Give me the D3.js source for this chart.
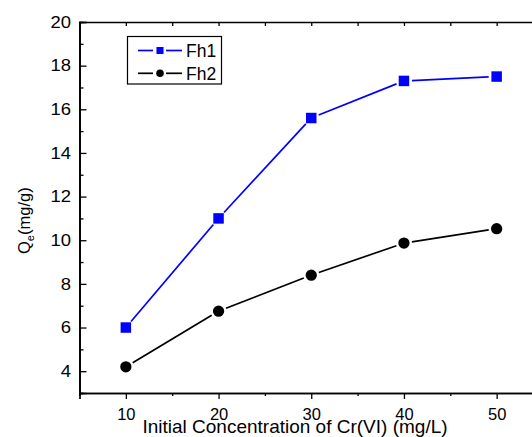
<!DOCTYPE html>
<html><head><meta charset="utf-8">
<script src="https://cdn.jsdelivr.net/npm/d3@7"></script>
<style>
html,body{margin:0;padding:0;background:#fff;}
svg{display:block;font-family:Arial,"Liberation Sans",sans-serif;}
</style></head>
<body><svg id="c" width="532" height="437"></svg>
<script>
const concentrations = [10, 20, 30, 40, 50];
const fh1 = [6.0, 11.0, 15.6, 17.3, 17.5];
const fh2 = [4.2, 6.75, 8.4, 9.87, 10.53];
const seriesNames = ["Fh1", "Fh2"];
const seriesColors = ["#0000ff", "#000000"];
const xTicks = [10, 20, 30, 40, 50];
const yTicks = [4, 6, 8, 10, 12, 14, 16, 18, 20];

const SY = 1.12; // slight horizontal stretch of y tick labels
const svg = d3.select("#c");
const x = d3.scaleLinear().domain([5, 55]).range([79.5, 543]);
const y = d3.scaleLinear().domain([3, 20]).range([393, 22]);

// axes
const xAxis = d3.axisBottom(x).tickValues(xTicks).tickSize(6).tickPadding(9).tickFormat(d3.format("d"));
const xMinor = d3.axisBottom(x).tickValues([15,25,35,45]).tickSize(3).tickFormat("");
const gx = svg.append("g").attr("transform", `translate(0,${y(3)})`).call(xAxis);
svg.append("g").attr("transform", `translate(0,${y(3)})`).call(xMinor);
const xTop = d3.axisTop(x).tickValues([10,15,20,25,30,35,40,45,50]).tickSize(-4).tickFormat("");
svg.append("g").attr("transform", `translate(0,${y(20)})`).call(xTop);

const yAxis = d3.axisLeft(y).tickValues(yTicks).tickSize(-7).tickPadding(9).tickFormat(d3.format("d"));
const yMinor = d3.axisLeft(y).tickValues([5,7,9,11,13,15,17,19]).tickSize(-4).tickFormat("");
const gy = svg.append("g").attr("transform", `translate(${x(5)},0)`).call(yAxis);
svg.append("g").attr("transform", `translate(${x(5)},0)`).call(yMinor);

svg.selectAll(".domain").attr("stroke", "#000").attr("stroke-width", 1.7);
svg.selectAll(".tick line").attr("stroke", "#000").attr("stroke-width", 1.3);
svg.selectAll(".tick text").attr("font-size", 16.5).attr("fill", "#000").attr("font-family", "Arial, 'Liberation Sans', sans-serif");
gy.selectAll(".tick text").attr("x", -8.5 / SY).attr("transform", `scale(${SY},1)`);

// axis titles
svg.append("text").attr("x", 295).attr("y", 433).attr("text-anchor", "middle")
  .attr("font-size", 19).text("Initial Concentration of Cr(VI) (mg/L)");
const yl = svg.append("text").attr("transform", "translate(29.5,254) rotate(-90)")
  .attr("font-size", 16.5);
yl.append("tspan").text("Q");
yl.append("tspan").attr("font-size", 11).attr("dy", 4).text("e");
yl.append("tspan").attr("dy", -4).text("(mg/g)");

// series with gapped segments
function drawSeries(vals, color, shape) {
  const pts = concentrations.map((c, i) => [x(c), y(vals[i])]);
  const gap = 8;
  for (let i = 0; i < pts.length - 1; i++) {
    const [x1, y1] = pts[i], [x2, y2] = pts[i+1];
    const dx = x2 - x1, dy = y2 - y1, L = Math.hypot(dx, dy);
    const ux = dx / L, uy = dy / L;
    svg.append("line")
      .attr("x1", x1 + ux*gap).attr("y1", y1 + uy*gap)
      .attr("x2", x2 - ux*gap).attr("y2", y2 - uy*gap)
      .attr("stroke", color).attr("stroke-width", 1.7);
  }
  const sym = d3.symbol().type(shape === "square" ? d3.symbolSquare : d3.symbolCircle)
    .size(shape === "square" ? 110 : 100);
  svg.append("g").selectAll("path").data(pts).join("path")
    .attr("transform", d => `translate(${d[0]},${d[1]})`)
    .attr("d", sym).attr("fill", color);
}
drawSeries(fh1, seriesColors[0], "square");
drawSeries(fh2, seriesColors[1], "circle");

// legend
const lg = svg.append("g");
lg.append("rect").attr("x", 127.5).attr("y", 36.5).attr("width", 94).attr("height", 47.5)
  .attr("fill", "#fff").attr("stroke", "#000").attr("stroke-width", 1.2);
const shapes = ["square", "circle"];
seriesNames.forEach((n, i) => {
  const cy = 50.5 + i * 22.8;
  lg.append("line").attr("x1", 138).attr("x2", 153).attr("y1", cy).attr("y2", cy)
    .attr("stroke", seriesColors[i]).attr("stroke-width", 1.7);
  lg.append("line").attr("x1", 166).attr("x2", 182).attr("y1", cy).attr("y2", cy)
    .attr("stroke", seriesColors[i]).attr("stroke-width", 1.7);
  lg.append("path").attr("transform", `translate(160,${cy})`)
    .attr("d", d3.symbol().type(shapes[i] === "square" ? d3.symbolSquare : d3.symbolCircle).size(shapes[i] === "square" ? 50 : 45))
    .attr("fill", seriesColors[i]);
  lg.append("text").attr("x", 186).attr("y", cy + 6.5).attr("font-size", 17.5).text(n);
});
</script></body></html>
